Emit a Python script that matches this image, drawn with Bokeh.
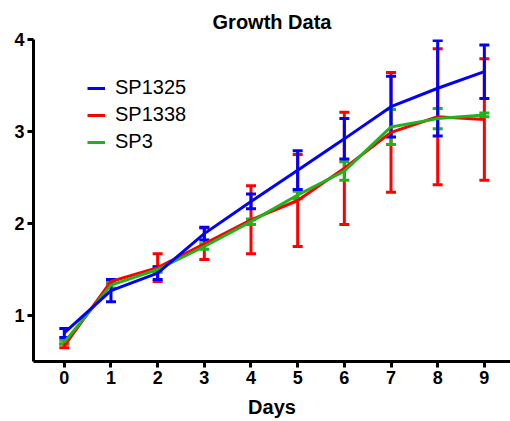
from bokeh.plotting import figure
from bokeh.models import ColumnDataSource, Whisker, Legend, LegendItem, Range1d, FixedTicker
from bokeh.embed import file_html
from bokeh.resources import INLINE

days = [0, 1, 2, 3, 4, 5, 6, 7, 8, 9]
series_names = ["SP1325", "SP1338", "SP3"]
sp1325_mean = [0.81, 1.27, 1.46, 1.89, 2.24, 2.58, 2.92, 3.27, 3.47, 3.65]
sp1325_sd = [0.05, 0.12, 0.07, 0.07, 0.08, 0.21, 0.22, 0.33, 0.52, 0.29]
sp1338_mean = [0.67, 1.37, 1.52, 1.78, 2.04, 2.25, 2.60, 2.99, 3.16, 3.13]
sp1338_sd = [0.02, 0.02, 0.15, 0.17, 0.37, 0.50, 0.61, 0.65, 0.74, 0.66]
sp3_mean = [0.71, 1.33, 1.50, 1.75, 2.02, 2.31, 2.57, 3.05, 3.14, 3.18]
sp3_sd = [0.02, 0.03, 0.03, 0.03, 0.03, 0.04, 0.10, 0.19, 0.11, 0.02]
x_ticks = [0, 1, 2, 3, 4, 5, 6, 7, 8, 9]
y_ticks = [1, 2, 3, 4]
colors = ["#0000FF", "#FF0000", "#1DB41D"]

FONT = "Liberation Sans"

p = figure(width=510, height=421, output_backend="svg", toolbar_location=None,
           x_range=Range1d(-0.66, 9.56), y_range=Range1d(0.5, 4.0),
           title="Growth Data", min_border_left=33, min_border_right=0,
           min_border_top=39, min_border_bottom=60)
p.outline_line_color = None
p.grid.visible = False
p.background_fill_color = "white"
p.border_fill_color = "white"

p.title.align = "center"
p.title.text_font = FONT
p.title.text_font_size = "20px"
p.title.text_font_style = "bold"
p.title.text_color = "black"
p.title.standoff = 14

for ax in (p.xaxis[0], p.yaxis[0]):
    ax.axis_line_width = 3
    ax.axis_line_color = "black"
    ax.major_tick_line_width = 3
    ax.major_tick_line_color = "black"
    ax.major_tick_out = 6
    ax.major_tick_in = 0
    ax.minor_tick_line_color = None
    ax.major_label_text_font = FONT
    ax.major_label_text_font_size = "18px"
    ax.major_label_text_font_style = "bold"
    ax.major_label_text_color = "black"
    ax.major_label_standoff = 3

p.xaxis.ticker = FixedTicker(ticks=x_ticks)
p.yaxis.ticker = FixedTicker(ticks=y_ticks)
p.xaxis.axis_label = "Days"
p.xaxis.axis_label_text_font = FONT
p.xaxis.axis_label_text_font_size = "20px"
p.xaxis.axis_label_text_font_style = "bold"
p.xaxis.axis_label_text_color = "black"
p.xaxis.axis_label_standoff = 9

means = [sp1325_mean, sp1338_mean, sp3_mean]
sds = [sp1325_sd, sp1338_sd, sp3_sd]

line_renderers = {}
draw_order = [1, 2, 0]
for i in draw_order:
    m = means[i]
    s = sds[i]
    src = ColumnDataSource(dict(x=days, y=m,
                                lo=[a - b for a, b in zip(m, s)],
                                hi=[a + b for a, b in zip(m, s)]))
    w = Whisker(source=src, base="x", lower="lo", upper="hi",
                line_color=colors[i], line_width=3)
    w.upper_head.size = 10
    w.lower_head.size = 10
    w.upper_head.line_color = colors[i]
    w.lower_head.line_color = colors[i]
    w.upper_head.line_width = 3
    w.lower_head.line_width = 3
    p.add_layout(w)
    r = p.line("x", "y", source=src, line_color=colors[i], line_width=3)
    line_renderers[i] = r

legend = Legend(items=[LegendItem(label=series_names[i], renderers=[line_renderers[i]]) for i in range(3)],
                location=(54, 208))
legend.label_text_font = FONT
legend.label_text_font_size = "20px"
legend.label_text_color = "black"
legend.glyph_width = 18
legend.glyph_height = 20
legend.label_height = 20
legend.label_standoff = 10
legend.spacing = 4
legend.padding = 0
legend.margin = 0
legend.border_line_color = None
legend.background_fill_alpha = 0
p.add_layout(legend, "center")

open("out.html", "w").write(file_html(p, INLINE))
